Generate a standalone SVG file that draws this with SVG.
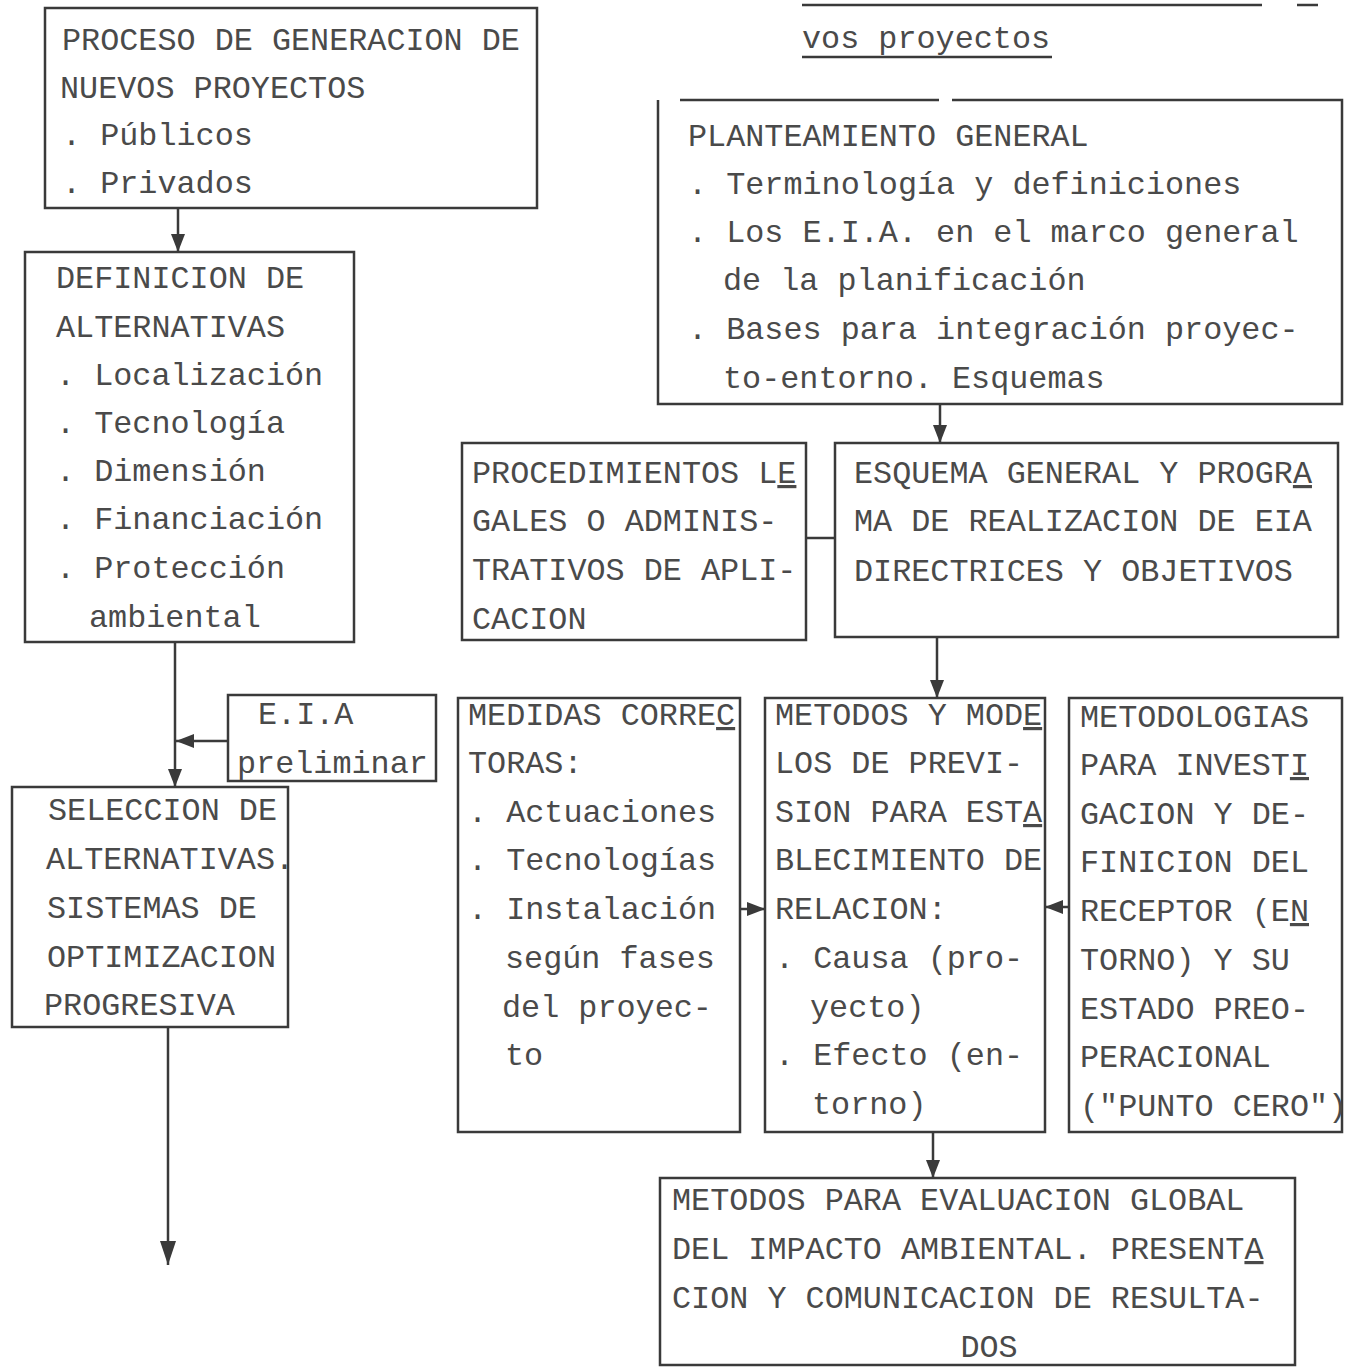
<svg xmlns="http://www.w3.org/2000/svg" width="1350" height="1368" viewBox="0 0 1350 1368">
<style>
.bg{fill:#ffffff}
.box{fill:none;stroke:#3a3a3a;stroke-width:2.5}
.t{font-family:"Liberation Mono","DejaVu Sans Mono",monospace;font-size:31.8px;fill:#4a4a4a}
.c{fill:none;stroke:#3a3a3a;stroke-width:2.5}
.u{text-decoration:underline}
</style>
<defs>
<marker id="ah" markerUnits="userSpaceOnUse" markerWidth="18" markerHeight="14" viewBox="0 0 18 14" refX="18" refY="7" orient="auto">
<path d="M0,0 L18,7 L0,14 Z" fill="#3a3a3a"/>
</marker>
<marker id="ahl" markerUnits="userSpaceOnUse" markerWidth="24" markerHeight="16" viewBox="0 0 24 16" refX="24" refY="8" orient="auto">
<path d="M0,0 L24,8 L0,16 Z" fill="#3a3a3a"/>
</marker>
</defs>
<rect class="bg" x="0" y="0" width="1350" height="1368"/>

<g id="header">
<line x1="802" y1="5" x2="1262" y2="5" stroke="#3a3a3a" stroke-width="2.5"/>
<line x1="1297" y1="5" x2="1318" y2="5" stroke="#3a3a3a" stroke-width="2.5"/>
<text class="t" x="802" y="48">vos proyectos</text>
<line x1="802" y1="57" x2="1052" y2="57" stroke="#3a3a3a" stroke-width="2.5"/>
</g>

<g id="connectors">
<line class="c" x1="178" y1="208" x2="178" y2="252" marker-end="url(#ah)"/>
<line class="c" x1="175" y1="642" x2="175" y2="787" marker-end="url(#ah)"/>
<line class="c" x1="228" y1="741" x2="176" y2="741" marker-end="url(#ah)"/>
<line class="c" x1="168" y1="1027" x2="168" y2="1265" marker-end="url(#ahl)"/>
<line class="c" x1="940" y1="404" x2="940" y2="443" marker-end="url(#ah)"/>
<line class="c" x1="806" y1="538" x2="835" y2="538"/>
<line class="c" x1="937" y1="637" x2="937" y2="698" marker-end="url(#ah)"/>
<line class="c" x1="740" y1="909" x2="765" y2="909" marker-end="url(#ah)"/>
<line class="c" x1="1069" y1="907" x2="1045" y2="907" marker-end="url(#ah)"/>
<line class="c" x1="933" y1="1132" x2="933" y2="1178" marker-end="url(#ah)"/>
</g>

<g id="n-proceso">
<rect class="box" x="45" y="8" width="492" height="200"/>
<text class="t" x="62" y="50">PROCESO DE GENERACION DE</text>
<text class="t" x="60" y="98">NUEVOS  PROYECTOS</text>
<text class="t" x="62" y="145">. Públicos</text>
<text class="t" x="62" y="193">. Privados</text>
</g>

<g id="n-definicion">
<rect class="box" x="25" y="252" width="329" height="390"/>
<text class="t" x="56" y="288">DEFINICION DE</text>
<text class="t" x="56" y="337">ALTERNATIVAS</text>
<text class="t" x="56" y="385">. Localización</text>
<text class="t" x="56" y="433">. Tecnología</text>
<text class="t" x="56" y="481">. Dimensión</text>
<text class="t" x="56" y="529">. Financiación</text>
<text class="t" x="56" y="578">. Protección</text>
<text class="t" x="89" y="627">ambiental</text>
</g>

<g id="n-eia">
<rect class="box" x="228" y="695" width="208" height="86"/>
<text class="t" x="258" y="724">E.I.A</text>
<text class="t" x="237" y="773">preliminar</text>
</g>

<g id="n-seleccion">
<rect class="box" x="12" y="787" width="276" height="240"/>
<text class="t" x="48" y="820">SELECCION DE</text>
<text class="t" x="46" y="869">ALTERNATIVAS.</text>
<text class="t" x="47" y="918">SISTEMAS DE</text>
<text class="t" x="47" y="967">OPTIMIZACION</text>
<text class="t" x="44" y="1015">PROGRESIVA</text>
</g>

<g id="n-planteamiento">
<path class="box" d="M680,100 L939,100 M952,100 L1342,100 L1342,404 L658,404 L658,100"/>
<text class="t" x="688" y="146">PLANTEAMIENTO GENERAL</text>
<text class="t" x="688" y="194">. Terminología y definiciones</text>
<text class="t" x="688" y="242">. Los E.I.A. en el marco general</text>
<text class="t" x="723" y="290">de la planificación</text>
<text class="t" x="688" y="339">. Bases para integración proyec-</text>
<text class="t" x="723" y="388">to-entorno. Esquemas</text>
</g>

<g id="n-procedimientos">
<rect class="box" x="462" y="443" width="344" height="197"/>
<text class="t" x="472" y="483">PROCEDIMIENTOS L<tspan class="u">E</tspan></text>
<text class="t" x="472" y="531">GALES O ADMINIS-</text>
<text class="t" x="472" y="580">TRATIVOS DE APLI-</text>
<text class="t" x="472" y="629">CACION</text>
</g>

<g id="n-esquema">
<rect class="box" x="835" y="443" width="503" height="194"/>
<text class="t" x="854" y="483">ESQUEMA GENERAL Y PROGR<tspan class="u">A</tspan></text>
<text class="t" x="854" y="531">MA DE REALIZACION DE EIA</text>
<text class="t" x="854" y="581">DIRECTRICES Y OBJETIVOS</text>
</g>

<g id="n-medidas">
<rect class="box" x="458" y="698" width="282" height="434"/>
<text class="t" x="468" y="725">MEDIDAS CORRE<tspan class="u">C</tspan></text>
<text class="t" x="468" y="773">TORAS:</text>
<text class="t" x="468" y="822">. Actuaciones</text>
<text class="t" x="468" y="870">. Tecnologías</text>
<text class="t" x="468" y="919">. Instalación</text>
<text class="t" x="505" y="968">según fases</text>
<text class="t" x="502" y="1017">del proyec-</text>
<text class="t" x="505" y="1065">to</text>
</g>

<g id="n-metodos">
<rect class="box" x="765" y="698" width="280" height="434"/>
<text class="t" x="775" y="725">METODOS Y MOD<tspan class="u">E</tspan></text>
<text class="t" x="775" y="773">LOS DE PREVI-</text>
<text class="t" x="775" y="822">SION PARA EST<tspan class="u">A</tspan></text>
<text class="t" x="775" y="870">BLECIMIENTO DE</text>
<text class="t" x="775" y="919">RELACION:</text>
<text class="t" x="775" y="968">. Causa (pro-</text>
<text class="t" x="810" y="1017">yecto)</text>
<text class="t" x="775" y="1065">. Efecto (en-</text>
<text class="t" x="812" y="1114">torno)</text>
</g>

<g id="n-metodologias">
<rect class="box" x="1069" y="698" width="273" height="434"/>
<text class="t" x="1080" y="727">METODOLOGIAS</text>
<text class="t" x="1080" y="775">PARA INVEST<tspan class="u">I</tspan></text>
<text class="t" x="1080" y="824">GACION Y DE-</text>
<text class="t" x="1080" y="872">FINICION DEL</text>
<text class="t" x="1080" y="921">RECEPTOR (E<tspan class="u">N</tspan></text>
<text class="t" x="1080" y="970">TORNO) Y SU</text>
<text class="t" x="1080" y="1019">ESTADO PREO-</text>
<text class="t" x="1080" y="1067">PERACIONAL</text>
<text class="t" x="1080" y="1116">("PUNTO CERO")</text>
</g>

<g id="n-evaluacion">
<rect class="box" x="660" y="1178" width="635" height="187"/>
<text class="t" x="672" y="1210">METODOS PARA EVALUACION GLOBAL</text>
<text class="t" x="672" y="1259">DEL IMPACTO AMBIENTAL. PRESENT<tspan class="u">A</tspan></text>
<text class="t" x="672" y="1308">CION Y COMUNICACION DE RESULTA-</text>
<text class="t" x="989" y="1357" text-anchor="middle">DOS</text>
</g>
</svg>
